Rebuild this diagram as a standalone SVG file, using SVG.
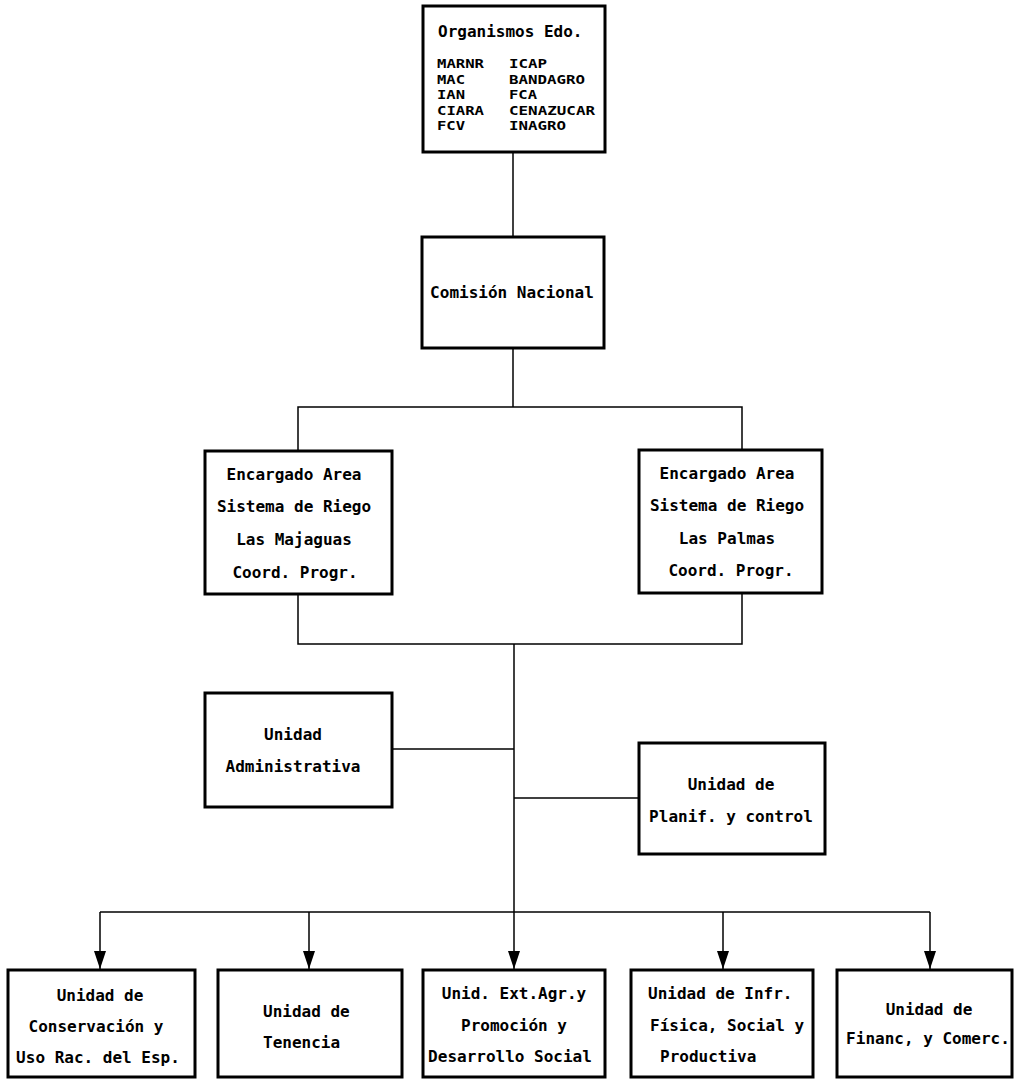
<svg xmlns="http://www.w3.org/2000/svg" width="1015" height="1079" viewBox="0 0 1015 1079">
<style>
.box{fill:#fff;stroke:#000;stroke-width:3}
.t{font-family:"DejaVu Sans Mono","Liberation Mono",monospace;font-weight:bold;font-size:16px;fill:#000}
.s{font-size:13px}
.c{text-anchor:middle}
.ln{fill:none;stroke:#000;stroke-width:1.5}
</style>
<defs>
<marker id="arr" markerUnits="userSpaceOnUse" markerWidth="18" markerHeight="14" viewBox="0 0 18 14" refX="18" refY="7" orient="auto">
<path d="M0 1 L18 7 L0 13 Z" fill="#000"/>
</marker>
</defs>
<g id="connectors">
<path class="ln" d="M513 152 V237"/>
<path class="ln" d="M513 348 V407"/>
<path class="ln" d="M298 451 V407 H742 V450"/>
<path class="ln" d="M298 594 V644 H742 V593"/>
<path class="ln" d="M514 644 V912"/>
<path class="ln" d="M392 749 H514"/>
<path class="ln" d="M514 798 H639"/>
<path class="ln" d="M100 912 H930"/>
<path class="ln" d="M100 912 V969" marker-end="url(#arr)"/>
<path class="ln" d="M309 912 V969" marker-end="url(#arr)"/>
<path class="ln" d="M514 912 V969" marker-end="url(#arr)"/>
<path class="ln" d="M723 912 V969" marker-end="url(#arr)"/>
<path class="ln" d="M930 912 V969" marker-end="url(#arr)"/>
</g>
<g id="organismos">
<rect class="box" x="423" y="6" width="182" height="146"/>
<text class="t" x="438" y="37">Organismos Edo.</text>
<text class="t s" x="437" y="68" textLength="47" lengthAdjust="spacingAndGlyphs">MARNR</text><text class="t s" x="509" y="68" textLength="38" lengthAdjust="spacingAndGlyphs">ICAP</text>
<text class="t s" x="437" y="83.5" textLength="28" lengthAdjust="spacingAndGlyphs">MAC</text><text class="t s" x="509" y="83.5" textLength="76" lengthAdjust="spacingAndGlyphs">BANDAGRO</text>
<text class="t s" x="437" y="99" textLength="28" lengthAdjust="spacingAndGlyphs">IAN</text><text class="t s" x="509" y="99" textLength="28" lengthAdjust="spacingAndGlyphs">FCA</text>
<text class="t s" x="437" y="114.5" textLength="47" lengthAdjust="spacingAndGlyphs">CIARA</text><text class="t s" x="509" y="114.5" textLength="86" lengthAdjust="spacingAndGlyphs">CENAZUCAR</text>
<text class="t s" x="437" y="130" textLength="28" lengthAdjust="spacingAndGlyphs">FCV</text><text class="t s" x="509" y="130" textLength="57" lengthAdjust="spacingAndGlyphs">INAGRO</text>
</g>
<g id="comision">
<rect class="box" x="422" y="237" width="182" height="111"/>
<text class="t c" x="512" y="298">Comisión Nacional</text>
</g>
<g id="majaguas">
<rect class="box" x="205" y="451" width="187" height="143"/>
<text class="t c" x="294" y="480">Encargado Area</text>
<text class="t c" x="294" y="512">Sistema de Riego</text>
<text class="t c" x="294" y="545">Las Majaguas</text>
<text class="t c" x="295" y="578">Coord. Progr.</text>
</g>
<g id="palmas">
<rect class="box" x="639" y="450" width="183" height="143"/>
<text class="t c" x="727" y="479">Encargado Area</text>
<text class="t c" x="727" y="511">Sistema de Riego</text>
<text class="t c" x="727" y="544">Las Palmas</text>
<text class="t c" x="731" y="576">Coord. Progr.</text>
</g>
<g id="administrativa">
<rect class="box" x="205" y="693" width="187" height="114"/>
<text class="t c" x="293" y="740">Unidad</text>
<text class="t c" x="293" y="772">Administrativa</text>
</g>
<g id="planificacion">
<rect class="box" x="639" y="743" width="186" height="111"/>
<text class="t c" x="731" y="790">Unidad de</text>
<text class="t c" x="731" y="822">Planif. y control</text>
</g>
<g id="conservacion">
<rect class="box" x="8" y="970" width="187" height="107"/>
<text class="t c" x="100" y="1001">Unidad de</text>
<text class="t c" x="96" y="1032">Conservación y</text>
<text class="t c" x="98" y="1063">Uso Rac. del Esp.</text>
</g>
<g id="tenencia">
<rect class="box" x="218" y="970" width="184" height="107"/>
<text class="t" x="263" y="1017">Unidad de</text>
<text class="t" x="263" y="1048">Tenencia</text>
</g>
<g id="extension">
<rect class="box" x="423" y="970" width="182" height="107"/>
<text class="t c" x="514" y="999">Unid. Ext.Agr.y</text>
<text class="t c" x="514" y="1031">Promoción y</text>
<text class="t c" x="510" y="1062">Desarrollo Social</text>
</g>
<g id="infraestructura">
<rect class="box" x="631" y="970" width="182" height="107"/>
<text class="t" x="648" y="999">Unidad de Infr.</text>
<text class="t" x="650" y="1031">Física, Social y</text>
<text class="t" x="660" y="1062">Productiva</text>
</g>
<g id="financiamiento">
<rect class="box" x="837" y="970" width="175" height="107"/>
<text class="t c" x="929" y="1015">Unidad de</text>
<text class="t c" x="928" y="1044">Financ, y Comerc.</text>
</g>
</svg>
